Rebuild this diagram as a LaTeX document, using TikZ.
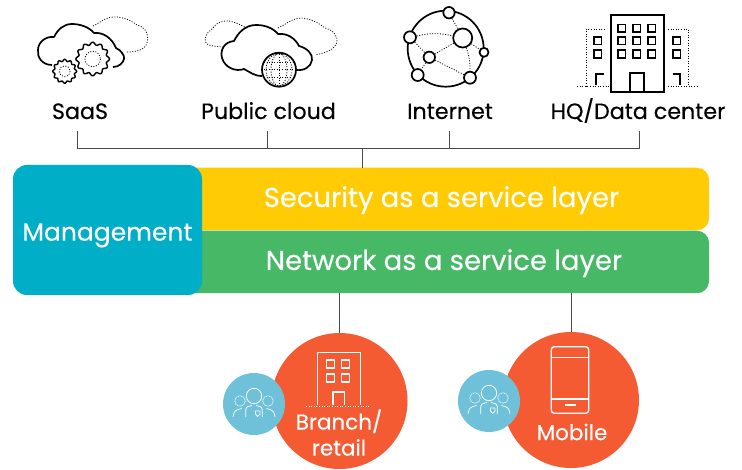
\documentclass[tikz,border=0pt]{standalone}
\usepackage{fontspec}
\setmainfont{Poppins}[FakeBold=0.25]
\definecolor{layeryellow}{HTML}{FFCB05}
\definecolor{layergreen}{HTML}{46B866}
\definecolor{mgmtteal}{HTML}{00AEC7}
\definecolor{siteorange}{HTML}{F45B33}
\definecolor{teamblue}{HTML}{6EC1D8}
\definecolor{wiregray}{HTML}{4A4A4A}
\begin{document}
\begin{tikzpicture}[x=1pt,y=-1pt]
      \tikzset{wire/.style = {draw=wiregray,line width=1pt}}
      \tikzset{solidline/.style = {draw=black,line width=1.7pt,line join=round}}
      \tikzset{dotline/.style = {draw=black,line width=0.8pt,dash pattern=on 1pt off 1.6pt}}
      \tikzset{toplabel/.style = {anchor=base,inner sep=0pt,outer sep=0pt,text depth=12pt,font=\fontsize{22.2}{26}\selectfont}}
      \tikzset{layer/.style = {rounded corners=12pt,inner sep=0pt,minimum height=62.5pt,text=white,text height=16pt,text depth=0pt,font=\fontsize{27.4}{30}\selectfont}}
      \tikzset{site/.style = {shape=circle,fill=siteorange,minimum size=136pt,inner sep=0pt}}
      \tikzset{team/.style = {shape=circle,fill=teamblue,minimum size=62pt,inner sep=0pt}}
      \tikzset{sitelabel/.style = {text=white,inner sep=0pt,align=center,font=\fontsize{21.5}{26}\selectfont}}
      \tikzset{vertex/.style = {shape=circle,draw=black,fill=white,line width=1.7pt,inner sep=0pt}}
      \tikzset{iconbox/.style = {draw=black,line width=1.7pt}}
      \tikzset{whiteline/.style = {draw=white,line width=1.3pt,line join=round}}
      \tikzset{pics/gear/.style = {code={
        \draw[solidline,line width=1.4pt,fill=white] plot[smooth cycle,domain=0:356,samples=90] ({(#1+0.09*#1*cos(12*\x))*cos(\x)},{(#1+0.09*#1*cos(12*\x))*sin(\x)});
        \draw[dotline] (0,0) circle[radius=0.5*#1];
      }}}
      \tikzset{pics/people/.style = {code={
        \draw[whiteline,line width=0.8pt] (0,-8) circle[radius=7.7];
        \draw[whiteline,line width=0.7pt,dash pattern=on 1pt off 0.7pt] (-14,-3) circle[radius=5.3] (14,-3) circle[radius=5.3];
        \draw[whiteline,line width=0.8pt] (-8.3,13) -- (-8.3,6) .. controls (-8.3,2.5) and (-5,2) .. (-2,1.5);
        \draw[whiteline,line width=0.8pt] (8.3,13) -- (8.3,6) .. controls (8.3,2.5) and (5,2) .. (2,1.5);
        \draw[whiteline,line width=0.7pt] (-21,13) .. controls (-20,7) and (-19,6) .. (-12.5,4.5);
        \draw[whiteline,line width=0.7pt] (21,13) .. controls (20,7) and (19,6) .. (12.5,4.5);
        \draw[whiteline,line width=0.7pt] (1.5,7) -- (6,7) -- (6,10) -- (3.7,12.5) -- (1.5,10) -- cycle;
      }}}

      \useasboundingbox (0,0) rectangle (742,470);

      % top row labels
      \node[toplabel] (saas) at (80,119) {SaaS};
      \node[toplabel] (public) at (268.5,119) {Public cloud};
      \node[toplabel] (internet) at (450,119) {Internet};
      \node[toplabel] (hq) at (638,119) {HQ/Data center};

      % layers
      \node[layer,fill=layeryellow,minimum width=535pt] (security) at (441.5,199) {Security as a service layer};
      \node[layer,fill=layergreen,minimum width=530pt] (network) at (444,262) {Network as a service layer};
      \node[shape=rectangle,rounded corners=14pt,fill=mgmtteal,minimum width=189pt,minimum height=130pt,inner sep=0pt,text=white,text height=21.4pt,text depth=0pt,font=\fontsize{25}{30}\selectfont] (mgmt) at (107.5,230) {Management};

      % sites
      \node[site] (branch) at (339.5,401) {};
      \node[site] (mobile) at (571,400) {};
      \node[team] (teamb) at (254,404) {};
      \node[team] (teamm) at (489,401) {};
      \node[sitelabel] (branchlabel) at (339,432.5) {Branch/\\retail};
      \node[sitelabel] (mobilelabel) at (572,432) {Mobile};

      % bus
      \coordinate (busl) at (77,149);
      \coordinate (busp) at (267,149);
      \coordinate (busc) at (362,149);
      \coordinate (busi) at (449,149);
      \coordinate (busr) at (639,149);
      \draw[wire] (saas.south -| busl) -- (busl) -- (busr) -- (hq.south -| busr);
      \draw[wire] (public.south -| busp) -- (busp);
      \draw[wire] (internet.south -| busi) -- (busi);
      \draw[wire] (busc) -- (security.north -| busc);
      \draw[wire] (network.south -| branch.north) -- (branch.north);
      \draw[wire] (network.south -| mobile.north) -- (mobile.north);

      % saas icon
      \draw[dotline] (93,26) .. controls (100,23) and (106,16) .. (117,17) .. controls (127,18) and (133,22) .. (137,25) .. controls (146,27) and (149,35) .. (147,43) .. controls (145,50) and (136,52) .. (127,52);
      \draw[solidline] (52,65) .. controls (42,65) and (37,57) .. (38,50) .. controls (38,42) and (46,36) .. (54,37) .. controls (58,29) and (64,24) .. (72,24) .. controls (80,24) and (89,27) .. (94,33) .. controls (103,32) and (112,38) .. (116,48) .. controls (121,50) and (125,56) .. (124,59) .. controls (123,63) and (119,67) .. (113,67);
      \pic at (92.7,59) {gear=15.5};
      \pic at (64.7,71.3) {gear=11};

      % public cloud icon
      \draw[dotline] (247,28) .. controls (240,25) and (232,20) .. (225,21) .. controls (218,22) and (215,25) .. (212,29) .. controls (206,33) and (204,38) .. (206,43) .. controls (208,46) and (214,46) .. (222,47);
      \draw[dotline] (278,28) .. controls (285,25) and (292,18) .. (302,18) .. controls (312,19) and (320,24) .. (325,28) .. controls (333,30) and (338,36) .. (337,42) .. controls (335,50) and (325,53) .. (315,55);
      \draw[solidline] (262,76) .. controls (254,76) and (250,72) .. (244,69) .. controls (236,72) and (225,68) .. (222,58) .. controls (220,50) and (224,42) .. (234,41) .. controls (238,33) and (245,25) .. (256,25) .. controls (265,25) and (273,28) .. (278,34) .. controls (287,33) and (295,38) .. (299,46) .. controls (307,48) and (313,54) .. (312,60) .. controls (311,67) and (304,71) .. (296,70);
      \node[shape=circle,draw=black,fill=white,line width=1.7pt,minimum size=34pt,inner sep=0pt] (globe) at (279,69.7) {};
      \draw[dotline] (globe.north) -- (globe.south) (globe.west) -- (globe.east);
      \draw[dotline] (279,69.7) ellipse[x radius=8,y radius=16.5] (279,69.7) ellipse[x radius=13,y radius=16];
      \draw[dotline] (264,62) -- (294,62) (264,77.5) -- (294,77.5);

      % internet icon
      \draw[solidline] (445.7,48.7) circle[radius=38];
      \node[vertex,minimum size=11.4pt] (na) at (449,12.7) {};
      \node[vertex,minimum size=12pt] (nb) at (410,37.3) {};
      \node[vertex,minimum size=19pt] (nc) at (462.7,38) {};
      \node[vertex,minimum size=9pt] (nd) at (484,52.3) {};
      \node[vertex,minimum size=11.4pt] (ne) at (429.3,57.3) {};
      \node[vertex,minimum size=12pt] (nf) at (417.7,75) {};
      \node[vertex,minimum size=12pt] (ng) at (470,77.7) {};
      \draw[dotline] (nb) to[bend left=12] (nc);
      \draw[dotline] (na) -- (nc);
      \draw[dotline] (nc) -- (ne);
      \draw[dotline] (nc) -- (nd);
      \draw[dotline] (nc) to[bend left=10] (ng);
      \draw[dotline] (ne) -- (ng);
      \draw[dotline] (ne) -- (nf);
      \draw[dotline] (nb) -- (ne);

      % hq icon
      \draw[iconbox] (610.7,15) rectangle (664,91.7);
      \draw[iconbox] (630,91.7) -- (630,73.3) -- (644,73.3) -- (644,91.7);
      \foreach \wx in {621.7,636.7,651.7} {
        \foreach \wy in {28.3,40.7,54} {
          \draw[iconbox] (\wx-3.7,\wy-3.7) rectangle (\wx+3.7,\wy+3.7);
        }
      }
      \foreach \wx in {597.7,676.7} {
        \foreach \wy in {40.7,54} {
          \draw[iconbox] (\wx-3.7,\wy-3.7) rectangle (\wx+3.7,\wy+3.7);
        }
      }
      \draw[dotline] (605,29.3) -- (586,29.3) -- (586,86.7);
      \draw[dotline] (668,29.3) -- (688.5,29.3) -- (688.5,86.7);
      \draw[dotline] (577,86.7) -- (609,86.7) (668,86.7) -- (697,86.7);
      \draw[iconbox] (596,85) -- (596,74) -- (603.5,74);
      \draw[iconbox] (672.5,74) -- (680,74) -- (680,85);

      % branch icon
      \draw[whiteline] (317.3,405) -- (317.3,352.3) -- (360.7,352.3) -- (360.7,405);
      \draw[whiteline] (326.7,360) rectangle +(8,8) (341.7,360) rectangle +(8,8) (326.7,374) rectangle +(8,8) (341.7,374) rectangle +(8,8);
      \draw[whiteline] (333,405) -- (333,392) -- (344.3,392) -- (344.3,405);
      \draw[draw=white,line width=0.9pt,dash pattern=on 1pt off 1.6pt] (306,406) -- (369,406);

      % mobile icon
      \draw[whiteline,rounded corners=3pt] (551.3,346.7) rectangle (588.7,413.3);
      \draw[whiteline] (551.3,357.7) -- (588.7,357.7) (551.3,399) -- (588.7,399);
      \draw[whiteline] (564.5,405) -- (575.5,405);

      % people
      \pic at (teamb) {people};
      \pic at (teamm) {people};
    \end{tikzpicture}
\end{document}
